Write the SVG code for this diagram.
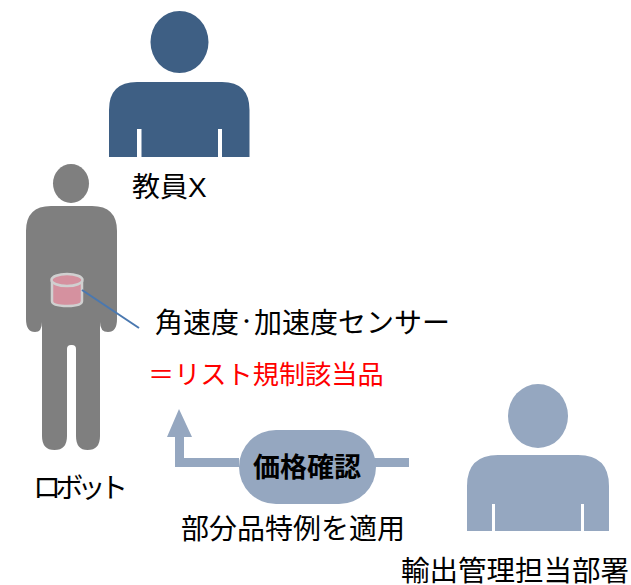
<svg xmlns="http://www.w3.org/2000/svg" width="631" height="585" viewBox="0 0 631 585">
<style>
text{font-family:"Liberation Sans","Noto Sans CJK JP",sans-serif;font-size:28px;fill:#000}
.t{fill:#3e5f84}
.l{fill:#95a7c0}
.g{fill:#7f7f7f}
</style>
<rect width="631" height="585" fill="#fff"/>
<g id="teacher">
<ellipse class="t" cx="179.500" cy="42" rx="29" ry="31"/>
<path class="t" d="M109 157V110Q109 82 137 82H222Q249.500 82 249.500 110V157H222V129H218V157H141.500V129H137V157Z"/>
<text x="132" y="197">教員X</text>
</g>
<g id="robot">
<ellipse class="g" cx="71" cy="183.500" rx="18" ry="19.500"/>
<path class="g" d="M26 231Q26 206 51 206H92Q117 206 117 231V319Q117 332 108 332Q100 332 100 322V436Q100 450 87.500 450Q76 450 76 436V349Q76 345 72 345H71Q67 345 67 349V436Q67 450 54.500 450Q42 450 42 436V322Q42 332 35 332Q26 332 26 319Z"/>
<text x="33" y="498" style="letter-spacing:-5.700px">ロボット</text>
</g>
<g id="sensor">
<path d="M52 281V301Q52 306 67.500 306Q82 306 82 301V281" fill="#d5919f" stroke="#d0d0d0" stroke-width="2.500"/>
<ellipse cx="67" cy="280" rx="15.500" ry="6" fill="#d5919f" stroke="#d0d0d0" stroke-width="2.500"/>
<text x="155" y="333">角速度<tspan dy="-6" style="font-size:15px;font-weight:bold">・</tspan><tspan dy="6">加速度センサー</tspan></text>
<text x="148" y="384" style="fill:#f00;font-size:26.200px">＝リスト規制該当品</text>
</g>
<g id="connectors">
<line x1="82" y1="290" x2="139" y2="328" stroke="#4a78b0" stroke-width="2"/>
<path class="l" d="M239 458H184V437H192L179 409L167 437H175V467H239ZM370 458H409V467H370Z"/>
</g>
<g id="check">
<rect class="l" x="239" y="430" width="137" height="74" rx="37"/>
<text x="253" y="477" style="font-size:27px;font-weight:bold">価格確認</text>
<text x="181" y="539">部分品特例を適用</text>
</g>
<g id="export">
<ellipse class="l" cx="538" cy="416" rx="30" ry="32"/>
<path class="l" d="M467 531V486Q467 455 498 455H578Q609 455 609 486V531H584V504H581V531H495V504H492V531Z"/>
<text x="401" y="581" style="font-size:28.500px">輸出管理担当部署</text>
</g>
</svg>
